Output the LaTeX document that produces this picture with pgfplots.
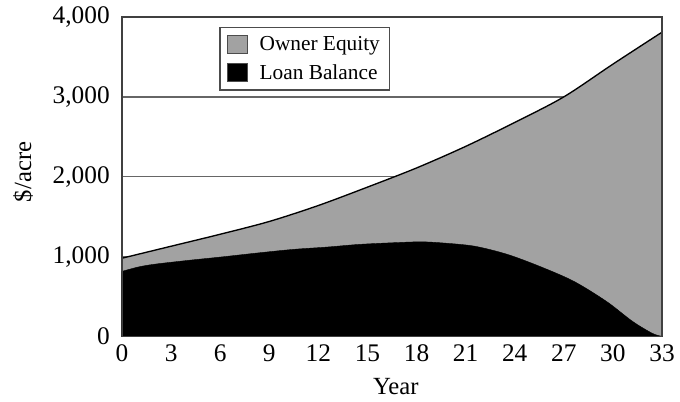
\documentclass[border=0pt]{standalone}
\usepackage{fontspec}
\setmainfont{Liberation Serif}
\usepackage{pgfplots}
\pgfplotsset{compat=1.18}
\definecolor{eqgray}{HTML}{A2A2A2}
\begin{document}
\begin{tikzpicture}
\begin{axis}[
  scale only axis,
  width=405pt, height=239.6pt,
  xmin=0, xmax=33, ymin=0, ymax=4000,
  xtick={0,3,...,33},
  ytick={0,1000,2000,3000,4000},
  scaled y ticks=false,
  /pgf/number format/assume math mode=true,
  yticklabel style={/pgf/number format/fixed, /pgf/number format/1000 sep={,}, anchor=east, inner sep=0pt, xshift=-9pt},
  xticklabel style={anchor=center, inner sep=0pt, yshift=-12.4pt},
  ticklabel style={font=\fontsize{19}{21}\selectfont},
  major tick length=0pt,
  ymajorgrids,
  grid style={black!60, line width=1pt},
  axis line style={black!75, line width=1.2pt},
  xlabel={Year},
  ylabel={\$/acre},
  label style={font=\fontsize{18.5}{20}\selectfont},
  xlabel style={at={(axis description cs:0.507,-0.158)}, anchor=center},
  ylabel style={at={(axis description cs:-0.183,0.515)}, anchor=center},
  legend style={at={(rel axis cs:0.18,0.969)}, anchor=north west,
    draw=black!70, line width=1pt, fill=white,
    font=\fontsize{16}{18}\selectfont,
    inner xsep=5pt, inner ysep=4.5pt, row sep=5pt,
    cells={anchor=west},
    /tikz/every odd column/.append style={column sep=7pt}},
  legend image code/.code={\draw[#1, draw=black!70, line width=0.8pt] (0pt,-6.75pt) rectangle (15pt,6.75pt);},
]
% total value (owner equity + loan balance)
\addplot[fill=eqgray, draw=black, line width=1pt, smooth, tension=0.5] table {
x y
0 980
3 1130
6 1280
9 1440
12 1640
15 1870
18 2110
21 2380
24 2680
27 3000
30 3410
33 3810
} \closedcycle;
\addlegendentry{Owner Equity}
% loan balance
\addplot[fill=black, draw=black, line width=0.3pt, smooth, tension=0.5] table {
x y
0 815
1 870
2 905
4 952
6 994
8.4 1048
10.5 1091
12.5 1119
14.5 1153
16.6 1174
18.2 1185
19.4 1174
21.5 1132
23.5 1031
25.5 880
27.6 692
29.6 440
31.2 189
32.4 40
33 0
} \closedcycle;
\addlegendentry{Loan Balance}
\draw[black!75, line width=1.2pt] (rel axis cs:0,0) rectangle (rel axis cs:1,1);
\end{axis}
\path[use as bounding box] ([shift={(-91.5pt,-48.4pt)}]current axis.south west) rectangle ([shift={(13.5pt,12.75pt)}]current axis.north east);
\end{tikzpicture}
\end{document}
